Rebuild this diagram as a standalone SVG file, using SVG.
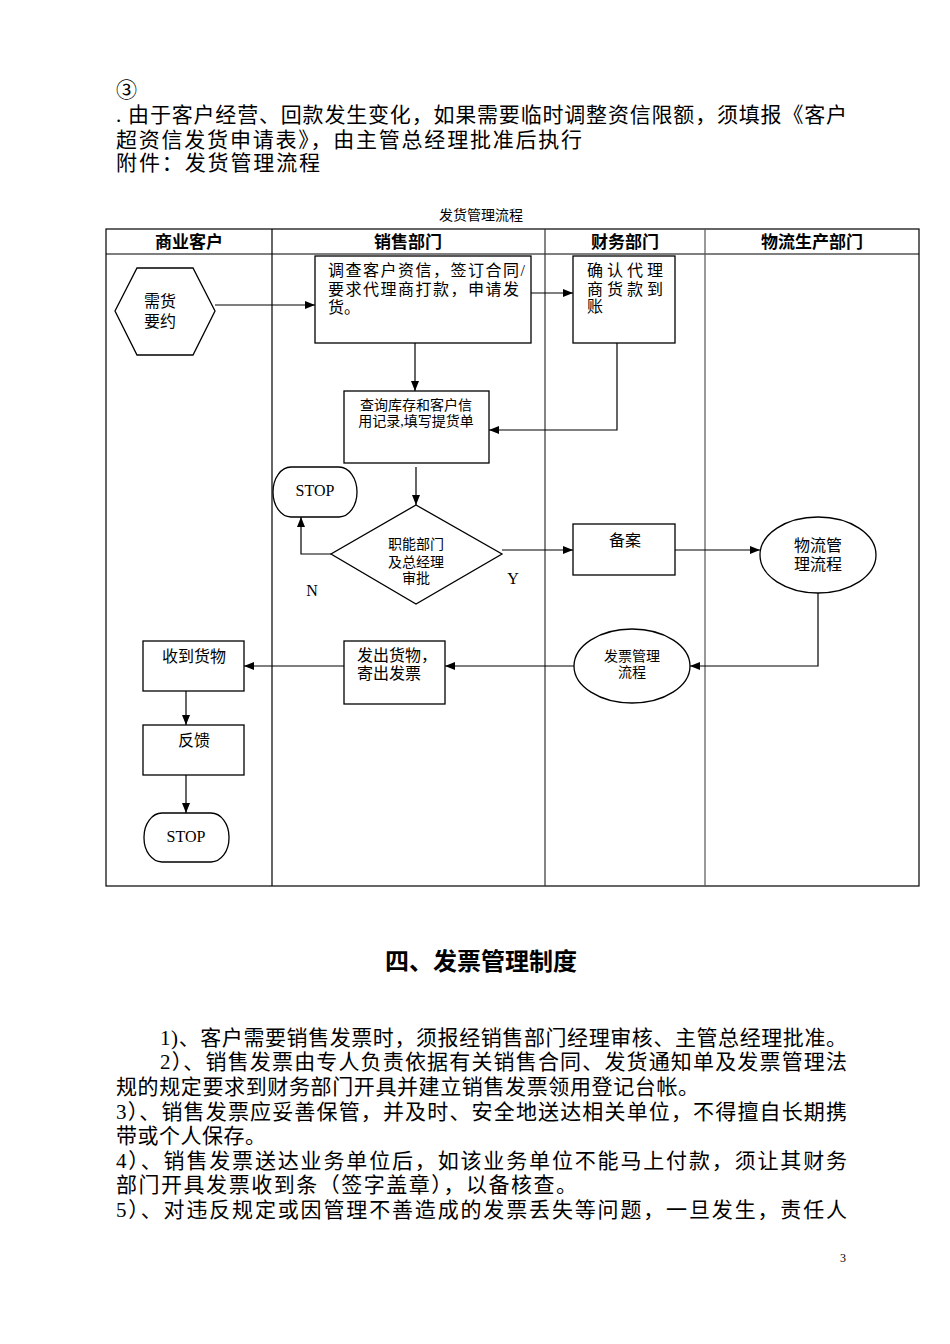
<svg xmlns="http://www.w3.org/2000/svg" width="950" height="1344" viewBox="0 0 950 1344">
<defs>
<marker id="ah" markerWidth="10" markerHeight="8" refX="10" refY="4" orient="auto" markerUnits="userSpaceOnUse"><path d="M0,0 L10,4 L0,8 Z" fill="#000"/></marker>
<style>
.t{font-family:"Liberation Serif","Noto Sans CJK SC",serif;fill:#000}
.body{font-size:21px}
.n{font-size:16px}
.s{font-size:14px}
.h{font-size:17px;font-weight:bold;font-family:"Liberation Sans","Noto Sans CJK SC",sans-serif}
.box{fill:#fff;stroke:#000;stroke-width:1.3}
.c{fill:none;stroke:#000;stroke-width:1.2;marker-end:url(#ah)}
</style>
</defs>
<rect width="950" height="1344" fill="#fff"/>

<g id="intro">
<text class="t body" x="116" y="97">③</text>
<text class="t body" x="116" y="122" textLength="731">. 由于客户经营、回款发生变化，如果需要临时调整资信限额，须填报《客户</text>
<text class="t body" x="116" y="147" textLength="466">超资信发货申请表》，由主管总经理批准后执行</text>
<text class="t body" x="116" y="170" textLength="204">附件：发货管理流程</text>
</g>

<text class="t" x="481" y="220" font-size="14" text-anchor="middle">发货管理流程</text>

<g id="table">
<rect x="106" y="229" width="813" height="657" fill="none" stroke="#000" stroke-width="1.2"/>
<line x1="106" y1="254" x2="919" y2="254" stroke="#000" stroke-width="1.2"/>
<line x1="272" y1="229" x2="272" y2="886" stroke="#000" stroke-width="1.2"/>
<line x1="545" y1="229" x2="545" y2="886" stroke="#333" stroke-width="1.2"/>
<line x1="705" y1="229" x2="705" y2="886" stroke="#555" stroke-width="1.2"/>
<text class="t h" x="189" y="248" text-anchor="middle">商业客户</text>
<text class="t h" x="408" y="248" text-anchor="middle">销售部门</text>
<text class="t h" x="625" y="248" text-anchor="middle">财务部门</text>
<text class="t h" x="812" y="248" text-anchor="middle">物流生产部门</text>
</g>

<g id="connectors">
<line class="c" x1="215" y1="305" x2="315" y2="305"/>
<line class="c" x1="531" y1="293" x2="573" y2="293"/>
<line class="c" x1="415" y1="343" x2="415" y2="391"/>
<polyline class="c" points="617,343 617,430 489,430"/>
<line class="c" x1="416" y1="467" x2="416" y2="505"/>
<polyline class="c" points="331,554 301,554 301,517"/>
<line class="c" x1="502" y1="550" x2="573" y2="550"/>
<line class="c" x1="675" y1="550" x2="760" y2="550"/>
<polyline class="c" points="818,593 818,666 690,666"/>
<line class="c" x1="574" y1="666" x2="445" y2="666"/>
<line class="c" x1="344" y1="666" x2="244" y2="666"/>
<line class="c" x1="186" y1="691" x2="186" y2="725"/>
<line class="c" x1="186" y1="775" x2="186" y2="813"/>
<text class="t" x="312" y="596" font-size="16" text-anchor="middle">N</text>
<text class="t" x="513" y="584" font-size="16" text-anchor="middle">Y</text>
</g>

<g id="n-demand">
<polygon class="box" points="115,311 137,268 193,268 215,311 193,355 137,355"/>
<text class="t n" x="160" y="307" text-anchor="middle">需货</text>
<text class="t n" x="160" y="327" text-anchor="middle">要约</text>
</g>

<g id="n-survey">
<rect class="box" x="315" y="256" width="216" height="87"/>
<text class="t n" x="328" y="276" textLength="197">调查客户资信，签订合同/</text>
<text class="t n" x="328" y="295" textLength="191">要求代理商打款，申请发</text>
<text class="t n" x="328" y="313">货。</text>
</g>

<g id="n-confirm">
<rect class="box" x="573" y="256" width="102" height="87"/>
<text class="t n" x="587" y="276" textLength="76">确认代理</text>
<text class="t n" x="587" y="295" textLength="76">商货款到</text>
<text class="t n" x="587" y="312">账</text>
</g>

<g id="n-query">
<rect class="box" x="344" y="391" width="145" height="72"/>
<text class="t s" x="416" y="410" text-anchor="middle">查询库存和客户信</text>
<text class="t s" x="416" y="426" text-anchor="middle">用记录,填写提货单</text>
</g>

<g id="n-stop1">
<rect class="box" x="273" y="467" width="84" height="50" rx="18" ry="25"/>
<text class="t" x="315" y="496" font-size="16" text-anchor="middle">STOP</text>
</g>

<g id="n-approve">
<polygon class="box" points="416,505 502,554 416,604 331,554"/>
<text class="t s" x="416" y="549" text-anchor="middle">职能部门</text>
<text class="t s" x="416" y="567" text-anchor="middle">及总经理</text>
<text class="t s" x="416" y="583" text-anchor="middle">审批</text>
</g>

<g id="n-record">
<rect class="box" x="573" y="524" width="102" height="51"/>
<text class="t n" x="625" y="546" text-anchor="middle">备案</text>
</g>

<g id="n-logistics">
<ellipse class="box" cx="818" cy="555" rx="58" ry="38"/>
<text class="t n" x="818" y="551" text-anchor="middle">物流管</text>
<text class="t n" x="818" y="570" text-anchor="middle">理流程</text>
</g>

<g id="n-invoice">
<ellipse class="box" cx="632" cy="666" rx="58" ry="37"/>
<text class="t s" x="632" y="661" text-anchor="middle">发票管理</text>
<text class="t s" x="632" y="677" text-anchor="middle">流程</text>
</g>

<g id="n-ship">
<rect class="box" x="344" y="641" width="101" height="63"/>
<text class="t n" x="357" y="661">发出货物，</text>
<text class="t n" x="357" y="679">寄出发票</text>
</g>

<g id="n-receive">
<rect class="box" x="143" y="641" width="101" height="50"/>
<text class="t n" x="194" y="662" text-anchor="middle">收到货物</text>
</g>

<g id="n-feedback">
<rect class="box" x="143" y="725" width="101" height="50"/>
<text class="t n" x="194" y="746" text-anchor="middle">反馈</text>
</g>

<g id="n-stop2">
<rect class="box" x="144" y="813" width="85" height="49" rx="18" ry="24"/>
<text class="t" x="186" y="842" font-size="16" text-anchor="middle">STOP</text>
</g>

<g id="section">
<text class="t" x="481" y="970" font-size="24" font-weight="bold" text-anchor="middle" style="font-family:'Liberation Sans','Noto Sans CJK SC',sans-serif">四、发票管理制度</text>
<text class="t body" x="160" y="1045" textLength="687">1)、客户需要销售发票时，须报经销售部门经理审核、主管总经理批准。</text>
<text class="t body" x="160" y="1069" textLength="687">2）、销售发票由专人负责依据有关销售合同、发货通知单及发票管理法</text>
<text class="t body" x="116" y="1094" textLength="583">规的规定要求到财务部门开具并建立销售发票领用登记台帐。</text>
<text class="t body" x="116" y="1119" textLength="731">3）、销售发票应妥善保管，并及时、安全地送达相关单位，不得擅自长期携</text>
<text class="t body" x="116" y="1143" textLength="150">带或个人保存。</text>
<text class="t body" x="116" y="1168" textLength="731">4）、销售发票送达业务单位后，如该业务单位不能马上付款，须让其财务</text>
<text class="t body" x="116" y="1192" textLength="461">部门开具发票收到条（签字盖章），以备核查。</text>
<text class="t body" x="116" y="1217" textLength="731">5）、对违反规定或因管理不善造成的发票丢失等问题，一旦发生，责任人</text>
</g>

<text class="t" x="843" y="1262" font-size="12" text-anchor="middle">3</text>
</svg>
